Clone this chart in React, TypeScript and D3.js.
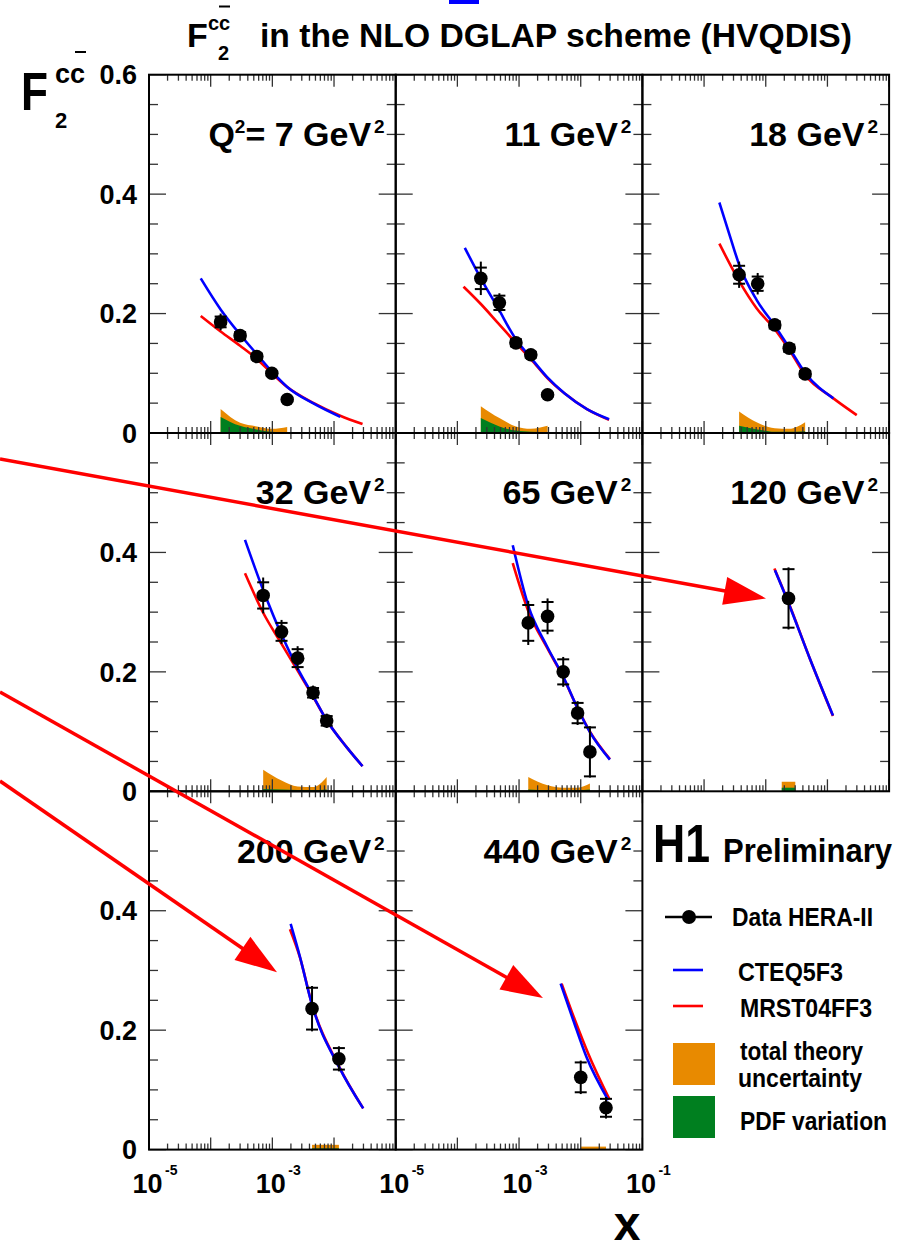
import { useEffect, useRef } from "react";
import * as d3 from "d3";

type Pt = [number, number];

// Q2 of each panel (GeV^2)
const q2Values = [7, 11, 18, 32, 65, 120, 200, 440];

// H1 data points: x, F2cc, stat error (inner tick) and total error (bar end)
const dataX = [
  [1.45e-4, 3.0e-4, 5.6e-4, 9.8e-4, 1.74e-3],
  [2.4e-4, 4.8e-4, 8.9e-4, 1.55e-3, 2.9e-3],
  [3.7e-4, 7.4e-4, 1.4e-3, 2.4e-3, 4.35e-3],
  [7.1e-4, 1.41e-3, 2.57e-3, 4.57e-3, 7.6e-3],
  [1.41e-3, 2.9e-3, 5.2e-3, 8.9e-3, 1.41e-2],
  [2.34e-3],
  [4.4e-3, 1.2e-2],
  [1.0e-2, 2.57e-2],
];
const dataF2 = [
  [0.186, 0.163, 0.128, 0.100, 0.056],
  [0.259, 0.218, 0.151, 0.131, 0.064],
  [0.265, 0.250, 0.181, 0.142, 0.099],
  [0.328, 0.267, 0.223, 0.165, 0.118],
  [0.282, 0.293, 0.200, 0.131, 0.066],
  [0.323],
  [0.236, 0.152],
  [0.121, 0.070],
];
const statErr = [
  [0.009, 0.006, 0.005, 0.004, 0.003],
  [0.018, 0.012, 0.006, 0.005, 0.003],
  [0.015, 0.012, 0.006, 0.006, 0.005],
  [0.022, 0.015, 0.015, 0.008, 0.008],
  [0.030, 0.024, 0.021, 0.017, 0.041],
  [0.049],
  [0.035, 0.018],
  [0.025, 0.015],
];
const totErr = [
  [0.014, 0.009, 0.007, 0.006, 0.005],
  [0.028, 0.016, 0.009, 0.008, 0.005],
  [0.022, 0.018, 0.010, 0.009, 0.008],
  [0.030, 0.020, 0.020, 0.012, 0.012],
  [0.037, 0.030, 0.025, 0.020, 0.043],
  [0.052],
  [0.038, 0.021],
  [0.028, 0.018],
];

// NLO predictions, [x, F2cc]
const cteqCurves: Pt[][] = [
  [[6.9e-5, 0.259], [1.45e-4, 0.207], [3.0e-4, 0.165], [5.6e-4, 0.132], [9.8e-4, 0.103], [1.74e-3, 0.077], [4.7e-3, 0.049], [1.26e-2, 0.027]],
  [[1.32e-4, 0.310], [2.4e-4, 0.259], [4.57e-4, 0.209], [8.5e-4, 0.160], [1.58e-3, 0.125], [2.88e-3, 0.093], [5.5e-3, 0.066], [1.26e-2, 0.040], [2.88e-2, 0.023]],
  [[1.77e-4, 0.386], [2.64e-4, 0.329], [3.73e-4, 0.281], [7.1e-4, 0.223], [1.42e-3, 0.179], [2.42e-3, 0.142], [4.34e-3, 0.101], [1.25e-2, 0.058]],
  [[3.6e-4, 0.421], [7.1e-4, 0.337], [1.41e-3, 0.262], [2.57e-3, 0.206], [4.5e-3, 0.161], [7.6e-3, 0.119], [1.6e-2, 0.074], [2.9e-2, 0.042]],
  [[7.9e-4, 0.412], [1.41e-3, 0.311], [2.86e-3, 0.242], [5.2e-3, 0.192], [8.9e-3, 0.139], [1.41e-2, 0.099], [2.97e-2, 0.053]],
  [[1.41e-3, 0.370], [2.34e-3, 0.315], [5.2e-3, 0.222], [1.23e-2, 0.127]],
  [[1.98e-3, 0.378], [2.8e-3, 0.323], [4.33e-3, 0.245], [1.21e-2, 0.138], [2.97e-2, 0.069]],
  [[4.72e-3, 0.278], [7.55e-3, 0.217], [1.24e-2, 0.155], [2.79e-2, 0.083]],
];
const mrstCurves: Pt[][] = [
  [[6.9e-5, 0.196], [1.45e-4, 0.170], [3.0e-4, 0.146], [5.6e-4, 0.124], [9.8e-4, 0.100], [1.74e-3, 0.077], [4.7e-3, 0.050], [1.26e-2, 0.029], [2.9e-2, 0.015]],
  [[1.26e-4, 0.245], [2.4e-4, 0.216], [4.57e-4, 0.184], [8.5e-4, 0.153], [1.58e-3, 0.123], [2.88e-3, 0.092], [5.5e-3, 0.066], [1.26e-2, 0.040], [2.88e-2, 0.022]],
  [[1.77e-4, 0.317], [3.73e-4, 0.254], [7.1e-4, 0.209], [1.42e-3, 0.173], [2.42e-3, 0.139], [4.34e-3, 0.097], [1.25e-2, 0.058], [2.99e-2, 0.030]],
  [[3.6e-4, 0.365], [7.1e-4, 0.299], [1.41e-3, 0.247], [2.57e-3, 0.202], [4.5e-3, 0.160], [7.6e-3, 0.119], [1.6e-2, 0.074], [2.9e-2, 0.042]],
  [[7.9e-4, 0.382], [1.41e-3, 0.302], [2.86e-3, 0.240], [5.2e-3, 0.191], [8.9e-3, 0.139], [1.41e-2, 0.100], [2.97e-2, 0.054]],
  [[1.38e-3, 0.373], [2.34e-3, 0.316], [5.2e-3, 0.222], [1.23e-2, 0.126]],
  [[1.93e-3, 0.369], [2.8e-3, 0.322], [4.33e-3, 0.246], [1.21e-2, 0.139], [2.97e-2, 0.069]],
  [[4.9e-3, 0.278], [8.05e-3, 0.217], [1.32e-2, 0.161], [2.9e-2, 0.085]],
];

// uncertainty bands, given at the data x values
const theoryUnc = [
  [0.040, 0.017, 0.011, 0.007, 0.010],
  [0.045, 0.025, 0.011, 0.007, 0.012],
  [0.036, 0.017, 0.008, 0.007, 0.018],
  [0.036, 0.018, 0.008, 0.007, 0.024],
  [0.024, 0.010, 0.006, 0.006, 0.013],
  [0.016],
  [0.008, 0.008],
  [0.005, 0.005],
];
const pdfVar = [
  [0.027, 0.012, 0.006, 0.002, 0.001],
  [0.025, 0.011, 0.004, 0.002, 0.001],
  [0.012, 0.006, 0.002, 0.002, 0.003],
  [0.004, 0.003, 0.002, 0.002, 0.003],
  [0.003, 0.002, 0.002, 0.002, 0.003],
  [0.006],
  [0.002, 0.002],
  [0.001, 0.001],
];

// tick labels
const yTickValues = [0, 0.2, 0.4, 0.6];
const xTickExponents = [-5, -3, -1];

// legend texts
const legendLabels = ["Data HERA-II", "CTEQ5F3", "MRST04FF3", "total theory", "uncertainty", "PDF variation"];

// red annotation arrows: [panel, x, F2] of the tip
const arrowTips: [number, number, number][] = [
  [5, 1.01e-3, 0.323],
  [7, 2.44e-3, 0.254],
  [6, 1.19e-3, 0.297],
];

// layout
const width = 904;
const height = 1253;
const gridLeft = 149;
const gridTop = 74.7;
const panelW = 246.7;
const panelH = 358.3;
const arrowStartY = [459, 692, 781];
const font = "'Liberation Sans', Arial, Helvetica, sans-serif";
const orange = "#e88a00";
const green = "#007f1f";

const drawChart = (el: SVGSVGElement) => {
  const svg = d3.select(el);
  svg.selectAll("*").remove();
  svg.attr("font-family", font).attr("font-weight", "bold");
  svg.append("rect").attr("width", width).attr("height", height).attr("fill", "white");

  // scales for every panel
  const panels = q2Values.map((q2, i) => {
    const col = i % 3;
    const row = Math.floor(i / 3);
    const left = gridLeft + col * panelW;
    const top = gridTop + row * panelH;
    const x = d3.scaleLog().domain([1e-5, 1e-1]).range([left, left + panelW]);
    const y = d3.scaleLinear().domain([0, 0.6]).range([top + panelH, top]);
    return { i, q2, col, row, left, top, right: left + panelW, bottom: top + panelH, x, y };
  });

  panels.forEach((p) => {
    const g = svg.append("g");
    const xs = dataX[p.i];

    // bands (orange total, green PDF)
    const drawBand = (vals: number[], color: string) => {
      if (xs.length === 1) {
        const hw = Math.pow(10, 0.11);
        g.append("rect")
          .attr("x", p.x(xs[0] / hw))
          .attr("width", p.x(xs[0] * hw) - p.x(xs[0] / hw))
          .attr("y", p.y(vals[0]))
          .attr("height", p.y(0) - p.y(vals[0]))
          .attr("fill", color);
      } else {
        const area = d3.area<Pt>()
          .x((d) => p.x(d[0]))
          .y0(p.y(0))
          .y1((d) => p.y(d[1]))
          .curve(d3.curveMonotoneX);
        g.append("path")
          .attr("d", area(xs.map((v, k) => [v, vals[k]] as Pt)))
          .attr("fill", color);
      }
    };
    drawBand(theoryUnc[p.i], orange);
    drawBand(pdfVar[p.i], green);

    // theory curves
    const line = d3.line<Pt>()
      .x((d) => p.x(d[0]))
      .y((d) => p.y(d[1]))
      .curve(d3.curveMonotoneX);
    g.append("path").attr("d", line(mrstCurves[p.i])).attr("fill", "none")
      .attr("stroke", "#ff0000").attr("stroke-width", 2.6);
    g.append("path").attr("d", line(cteqCurves[p.i])).attr("fill", "none")
      .attr("stroke", "#0000ff").attr("stroke-width", 2.6);

    // data with error bars
    xs.forEach((xv, k) => {
      const cx = p.x(xv);
      const v = dataF2[p.i][k];
      g.append("line").attr("x1", cx).attr("x2", cx)
        .attr("y1", p.y(v - totErr[p.i][k])).attr("y2", p.y(v + totErr[p.i][k]))
        .attr("stroke", "black").attr("stroke-width", 2);
      [-1, 1].forEach((s) => {
        const ty = p.y(v + s * statErr[p.i][k]);
        g.append("line").attr("x1", cx - 6).attr("x2", cx + 6).attr("y1", ty).attr("y2", ty)
          .attr("stroke", "black").attr("stroke-width", 2);
      });
      g.append("circle").attr("cx", cx).attr("cy", p.y(v)).attr("r", 6.8).attr("fill", "black");
    });

    // ticks on all four sides
    const tk = svg.append("g").attr("stroke", "#333").attr("stroke-width", 1.3);
    p.x.ticks().forEach((t) => {
      const major = Math.abs(Math.log10(t) - Math.round(Math.log10(t))) < 1e-6;
      const len = major ? 12 : 6;
      const tx = p.x(t);
      tk.append("line").attr("x1", tx).attr("x2", tx).attr("y1", p.bottom).attr("y2", p.bottom - len);
      tk.append("line").attr("x1", tx).attr("x2", tx).attr("y1", p.top).attr("y2", p.top + len);
    });
    d3.range(0, 0.6001, 0.05).forEach((t) => {
      const major = Math.abs(t / 0.2 - Math.round(t / 0.2)) < 1e-6;
      const len = major ? 17 : 9;
      const ty = p.y(t);
      tk.append("line").attr("x1", p.left).attr("x2", p.left + len).attr("y1", ty).attr("y2", ty);
      tk.append("line").attr("x1", p.right).attr("x2", p.right - len).attr("y1", ty).attr("y2", ty);
    });

    // frame
    svg.append("rect").attr("x", p.left).attr("y", p.top).attr("width", panelW).attr("height", panelH)
      .attr("fill", "none").attr("stroke", "black").attr("stroke-width", 2);

    // Q2 label
    const lbl = svg.append("text").attr("x", p.right - 11).attr("y", p.top + 71.3)
      .attr("text-anchor", "end").attr("font-size", 34);
    if (p.i === 0) {
      lbl.append("tspan").text("Q");
      lbl.append("tspan").attr("font-size", 19).attr("dy", -13).text("2");
      lbl.append("tspan").attr("dy", 13).text(`= ${p.q2} GeV`);
    } else {
      lbl.append("tspan").text(`${p.q2} GeV`);
    }
    lbl.append("tspan").attr("font-size", 19).attr("dy", -13).attr("dx", 3).text("2");

    // y tick labels on the left column
    if (p.col === 0) {
      yTickValues.filter((v) => v < 0.5 || p.row === 0).forEach((v) => {
        svg.append("text").attr("x", 137).attr("y", p.y(v)).attr("dy", "0.36em")
          .attr("text-anchor", "end").attr("font-size", 27)
          .text(v === 0 ? "0" : v.toFixed(1));
      });
    }

    // x tick labels on the bottom row (10^-1 only on the last panel)
    if (p.row === 2) {
      xTickExponents.filter((e) => e < -1 || p.col === 1).forEach((e) => {
        const tx = p.x(Math.pow(10, e));
        svg.append("text").attr("x", tx - 1.5).attr("y", 1193).attr("text-anchor", "middle")
          .attr("font-size", 27).text("10");
        svg.append("text").attr("x", tx + 16).attr("y", 1175).attr("font-size", 14).text(`${e}`);
      });
    }
  });

  // titles
  svg.append("text").attr("x", 187).attr("y", 47).attr("font-size", 34).text("F");
  svg.append("text").attr("x", 208).attr("y", 30).attr("font-size", 20).text("cc");
  svg.append("line").attr("x1", 219).attr("x2", 230).attr("y1", 6.5).attr("y2", 6.5)
    .attr("stroke", "black").attr("stroke-width", 2);
  svg.append("text").attr("x", 218).attr("y", 60).attr("font-size", 20).text("2");
  svg.append("text").attr("x", 260).attr("y", 47).attr("font-size", 34)
    .attr("textLength", 592).attr("lengthAdjust", "spacingAndGlyphs")
    .text("in the NLO DGLAP scheme (HVQDIS)");
  svg.append("rect").attr("x", 449).attr("y", 0).attr("width", 30).attr("height", 4).attr("fill", "#0000ff");

  svg.append("text").attr("x", 21).attr("y", 110).attr("font-size", 54)
    .attr("textLength", 27).attr("lengthAdjust", "spacingAndGlyphs").text("F");
  svg.append("text").attr("x", 55).attr("y", 83).attr("font-size", 27).text("cc");
  svg.append("line").attr("x1", 75).attr("x2", 86).attr("y1", 52).attr("y2", 52)
    .attr("stroke", "black").attr("stroke-width", 2);
  svg.append("text").attr("x", 55).attr("y", 128).attr("font-size", 22).text("2");

  svg.append("text").attr("x", 627).attr("y", 1240).attr("text-anchor", "middle")
    .attr("font-size", 48).text("x");

  // H1 Preliminary and legend
  svg.append("text").attr("x", 653).attr("y", 862).attr("font-size", 54)
    .attr("textLength", 57).attr("lengthAdjust", "spacingAndGlyphs").text("H1");
  svg.append("text").attr("x", 723).attr("y", 862).attr("font-size", 33)
    .attr("textLength", 169).attr("lengthAdjust", "spacingAndGlyphs").text("Preliminary");

  const leg = svg.append("g");
  leg.append("line").attr("x1", 665).attr("x2", 712).attr("y1", 917).attr("y2", 917)
    .attr("stroke", "black").attr("stroke-width", 2.5);
  leg.append("circle").attr("cx", 689).attr("cy", 917).attr("r", 7).attr("fill", "black");
  leg.append("line").attr("x1", 673).attr("x2", 703).attr("y1", 970).attr("y2", 970)
    .attr("stroke", "#0000ff").attr("stroke-width", 2.6);
  leg.append("line").attr("x1", 673).attr("x2", 703).attr("y1", 1006).attr("y2", 1006)
    .attr("stroke", "#ff0000").attr("stroke-width", 2.6);
  leg.append("rect").attr("x", 673).attr("y", 1043).attr("width", 42).attr("height", 42).attr("fill", orange);
  leg.append("rect").attr("x", 673).attr("y", 1096).attr("width", 42).attr("height", 42).attr("fill", green);

  const legPos: [number, number, number][] = [
    [732, 926, 141], [738, 981, 105], [740, 1017, 132], [740, 1060, 123], [738, 1087, 124], [740, 1130, 147],
  ];
  legendLabels.forEach((t, k) => {
    leg.append("text").attr("x", legPos[k][0]).attr("y", legPos[k][1]).attr("font-size", 25)
      .attr("textLength", legPos[k][2]).attr("lengthAdjust", "spacingAndGlyphs").text(t);
  });

  // red arrows
  arrowTips.forEach(([pi, xv, fv], k) => {
    const p = panels[pi];
    const tip: Pt = [p.x(xv), p.y(fv)];
    const start: Pt = [0, arrowStartY[k]];
    const dx = tip[0] - start[0];
    const dy = tip[1] - start[1];
    const len = Math.hypot(dx, dy);
    const ux = dx / len;
    const uy = dy / len;
    const headL = 42;
    const headW = 14;
    const base: Pt = [tip[0] - ux * headL, tip[1] - uy * headL];
    svg.append("line").attr("x1", start[0]).attr("y1", start[1])
      .attr("x2", base[0] + ux * 2).attr("y2", base[1] + uy * 2)
      .attr("stroke", "#ff0000").attr("stroke-width", 3.5);
    svg.append("path")
      .attr("d", `M${tip[0]},${tip[1]}L${base[0] - uy * headW},${base[1] + ux * headW}L${base[0] + uy * headW},${base[1] - ux * headW}Z`)
      .attr("fill", "#ff0000");
  });
};

export default function App() {
  const ref = useRef<SVGSVGElement>(null);

  useEffect(() => {
    if (ref.current) drawChart(ref.current);
  }, []);

  return (
    <svg
      ref={ref}
      width={width}
      height={height}
      style={{ position: "absolute", left: 0, top: 0, display: "block" }}
    />
  );
}
